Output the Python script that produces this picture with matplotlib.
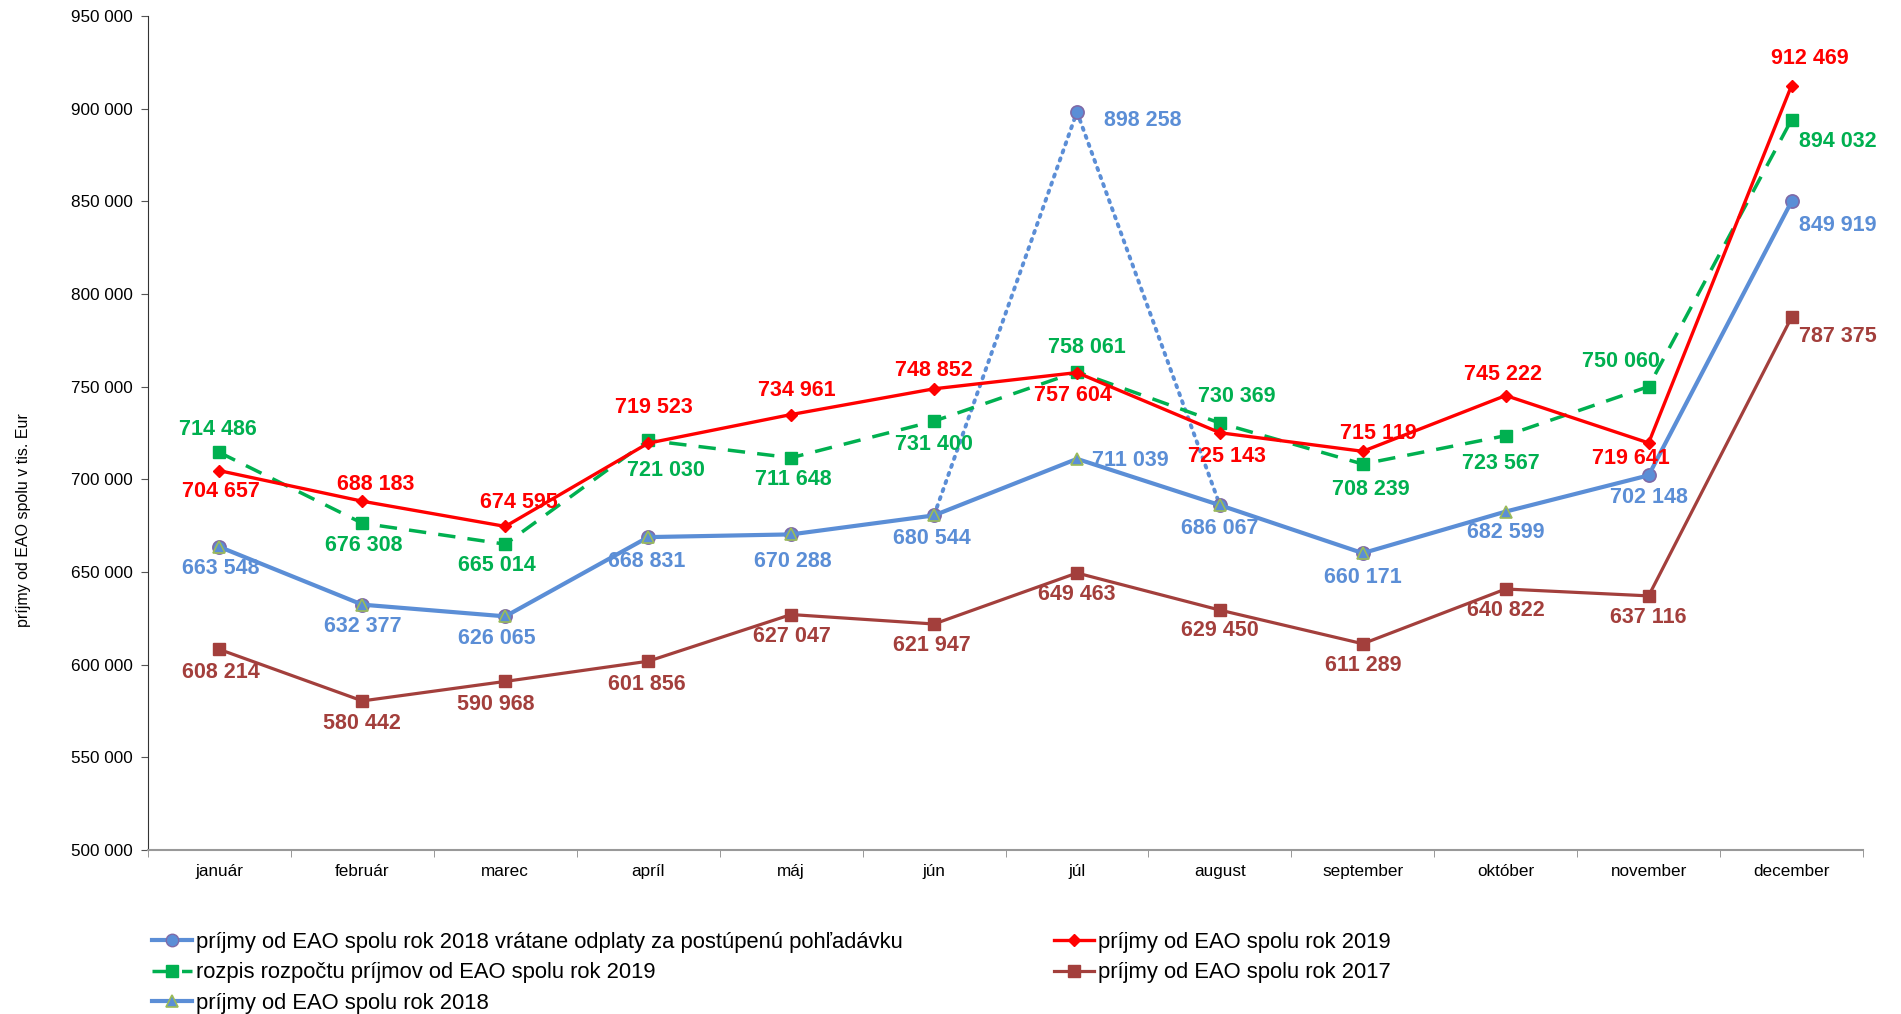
import numpy as np
import matplotlib
matplotlib.use("Agg")
import matplotlib.pyplot as plt
from matplotlib.ticker import FuncFormatter, FixedLocator

plt.rcParams['font.family'] = ['Liberation Sans', 'DejaVu Sans']

months = ["január", "február", "marec", "apríl", "máj", "jún", "júl", "august",
          "september", "október", "november", "december"]

prijmy_2019 = [704657, 688183, 674595, 719523, 734961, 748852, 757604, 725143,
               715119, 745222, 719641, 912469]
rozpis_2019 = [714486, 676308, 665014, 721030, 711648, 731400, 758061, 730369,
               708239, 723567, 750060, 894032]
prijmy_2017 = [608214, 580442, 590968, 601856, 627047, 621947, 649463, 629450,
               611289, 640822, 637116, 787375]
prijmy_2018 = [663548, 632377, 626065, 668831, 670288, 680544, 711039, 686067,
               660171, 682599, 702148, 849919]
prijmy_2018_vratane = [663548, 632377, 626065, 668831, 670288, 680544, 898258, 686067,
                       660171, np.nan, 702148, 849919]

yticks = [500000, 550000, 600000, 650000, 700000, 750000, 800000, 850000, 900000, 950000]

RED = "#FF0000"
GREEN = "#00B050"
BLUE = "#5B8ED6"
BROWN = "#A33F3C"

W, H = 1901, 1014
fig = plt.figure(figsize=(W / 100, H / 100), dpi=100)
ax = fig.add_axes([148 / W, 1 - 850 / H, (1863 - 148) / W, (850 - 16) / H])

x = np.arange(len(months))

# 2017
l_2017, = ax.plot(x, prijmy_2017, color=BROWN, lw=2.3, marker='s', ms=8.5,
                  mfc=BROWN, mec=BROWN, zorder=3)
# 2018 (triangles)
l_2018, = ax.plot(x, prijmy_2018, color=BLUE, lw=3.0, marker='^', ms=8,
                  mfc=BLUE, mec="#9BBB59", mew=1.2, markevery=list(range(10)), zorder=4)
# 2018 incl. - dotted segment jún-júl-august
v = np.array(prijmy_2018_vratane, dtype=float)
ax.plot(x[5:8], v[5:8], color=BLUE, lw=2.8, ls=(0, (0.6, 1.6)), dash_capstyle='round',
        zorder=3.5)
ax.plot(x, v, ls='none', marker='o', ms=9.5, mfc=BLUE, mec="#7F6AA8", mew=1.2, zorder=3.8)
l_vrat = plt.Line2D([], [], color=BLUE, lw=3.0, marker='o', ms=9, mfc=BLUE, mec="#7F6AA8")
# rozpis 2019
l_rozpis, = ax.plot(x, rozpis_2019, color=GREEN, lw=2.5, ls=(0, (5, 3.5)), marker='s',
                    ms=8.5, mfc=GREEN, mec=GREEN, zorder=5)
# 2019
l_2019, = ax.plot(x, prijmy_2019, color=RED, lw=2.4, marker='D', ms=6.5,
                  mfc=RED, mec=RED, zorder=6)

# data labels: offsets in pixels (dx, dy upwards)
S = 1.2124
off_red = [(1, -17), (11, 14), (11, 20), (5, 29), (5, 20), (0, 15), (-3, -19), (6, -20),
           (13, 15), (-2, 17), (-15, -13), (15, 22)]
off_green = [(-1, 19), (1, -18), (-7, -18), (15, -25), (2, -18), (0, -19), (8, 20), (14, 22),
             (7, -21), (-4, -23), (-23, 21), (38, -18)]
off_blue = [(1, -18), (0, -18), (-7, -18), (-1, -20), (1, -22), (-2, -19), (44, -1), (0, -19),
            (0, -20), (0, -17), (0, -18), (38, -20)]
off_brown = [(1, -19), (0, -19), (-8, -19), (-1, -19), (1, -18), (-2, -18), (0, -18), (0, -17),
             (0, -18), (0, -18), (0, -18), (38, -16)]


def fmt(val):
    return f"{int(round(val)):,}".replace(",", " ")


LBL = 15.5


def label_series(vals, offs, color):
    for xi, val, (dx, dy) in zip(x, vals, offs):
        if np.isnan(val):
            continue
        ax.annotate(fmt(val), (xi, val), xytext=(dx * S, dy * S), textcoords='offset pixels',
                    ha='center', va='center', color=color, fontsize=LBL,
                    fontweight='bold', zorder=10)


label_series(prijmy_2017, off_brown, BROWN)
label_series(prijmy_2018, off_blue, BLUE)
label_series(rozpis_2019, off_green, GREEN)
label_series(prijmy_2019, off_red, RED)
ax.annotate(fmt(prijmy_2018_vratane[6]), (x[6], prijmy_2018_vratane[6]),
            xytext=(54 * S, -7 * S), textcoords='offset pixels', ha='center', va='center',
            color=BLUE, fontsize=LBL, fontweight='bold', zorder=10)

# axes styling
ax.set_xlim(-0.5, len(months) - 0.5)
ax.set_ylim(500000, 950000)
ax.yaxis.set_major_locator(FixedLocator(yticks))
ax.yaxis.set_major_formatter(FuncFormatter(lambda v_, p: fmt(v_)))
ax.set_xticks(x)
ax.set_xticklabels(months, fontsize=12.3)
ax.tick_params(axis='x', which='major', length=0, pad=10)
ax.set_xticks(np.arange(-0.5, len(months), 1.0), minor=True)
ax.tick_params(axis='x', which='minor', length=5, color="#888888", direction='out')
ax.tick_params(axis='y', labelsize=12.3, length=5, direction='out', color="#555555", pad=6)
for s in ['top', 'right']:
    ax.spines[s].set_visible(False)
ax.spines['left'].set_color("#333333")
ax.spines['bottom'].set_color("#999999")
ax.spines['bottom'].set_linewidth(1.5)

fig.text(24 / W, 1 - 520 / H, "príjmy od EAO spolu v tis. Eur", rotation=90,
         fontsize=11.5, ha='center', va='center')

handles = [l_vrat, l_rozpis, l_2018, l_2019, l_2017]
labels = ["príjmy od EAO spolu rok 2018 vrátane odplaty za postúpenú pohľadávku",
          "rozpis rozpočtu príjmov od EAO spolu rok 2019",
          "príjmy od EAO spolu rok 2018",
          "príjmy od EAO spolu rok 2019",
          "príjmy od EAO spolu rok 2017"]
fig.legend(handles, labels, loc='upper left', bbox_to_anchor=(152 / W, 1 - 932 / H),
           ncol=2, frameon=False, fontsize=15.8, handlelength=1.8, handletextpad=0.2,
           columnspacing=6.9, labelspacing=0.43, borderaxespad=0, borderpad=0)

fig.savefig("out.png", dpi=100)
